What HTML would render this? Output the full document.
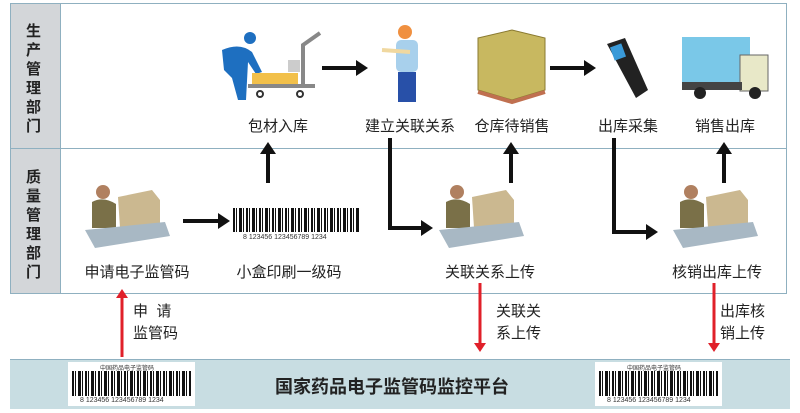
<!DOCTYPE html>
<html><head><meta charset="utf-8"><style>
body{margin:0;width:800px;height:413px;background:#fff;position:relative;overflow:hidden;font-family:"Liberation Sans","Noto Sans CJK SC",sans-serif;}
.a{position:absolute}
.t{position:absolute;font-size:15px;color:#222;white-space:nowrap;transform:translateX(-50%)}
.bc{position:absolute;background:repeating-linear-gradient(90deg,#111 0 2px,#fff 2px 3px,#111 3px 4px,#fff 4px 6px,#111 6px 9px,#fff 9px 10px,#111 10px 11px,#fff 11px 13px);}
.num{position:absolute;font-size:7px;color:#333;white-space:nowrap}
</style></head><body>
<div class="a" style="left:10px;top:3px;width:777px;height:291px;border:1px solid #8fb0c0;box-sizing:border-box"></div>
<div class="a" style="left:11px;top:4px;width:49px;height:289px;background:#d3d6d9;border-right:1px solid #8fb0c0"></div>
<div class="a" style="left:11px;top:148px;width:776px;height:1px;background:#8fb0c0"></div>
<div class="a" style="left:26px;top:22px;width:20px;font-size:15px;font-weight:bold;line-height:19px;color:#222">生产管理部门</div>
<div class="a" style="left:26px;top:168px;width:20px;font-size:15px;font-weight:bold;line-height:19px;color:#222">质量管理部门</div>

<svg class="a" style="left:0;top:0" width="800" height="413">
<defs>
<marker id="k" markerWidth="4" markerHeight="4" refX="1" refY="2" orient="auto" markerUnits="strokeWidth"><path d="M0,0L3,2L0,4z" fill="#111"/></marker>
<marker id="r" markerWidth="4" markerHeight="4" refX="1" refY="2" orient="auto" markerUnits="strokeWidth"><path d="M0,0L3,2L0,4z" fill="#e0202a"/></marker>
</defs>
<g stroke="#111" stroke-width="4" fill="none" marker-end="url(#k)">
<path d="M322 68H360"/><path d="M550 68H588"/>
<path d="M183 221H222"/>
<path d="M268 183V150"/>
<path d="M390 138V228H425"/>
<path d="M511 183V150"/>
<path d="M614 138V232H650"/>
<path d="M724 183V150"/>
</g>
<g stroke="#e0202a" stroke-width="3" fill="none" marker-end="url(#r)">
<path d="M122 357V295"/><path d="M480 283V346"/><path d="M714 283V346"/>
</g>
<circle cx="250" cy="38" r="6" fill="#1e6fc0"/>
<path d="M222 50Q240 42 252 52L262 72 256 74 248 62 246 100 238 100 232 78 224 70Z" fill="#1e6fc0"/>
<rect x="252" y="73" width="46" height="11" fill="#f2c04a"/><rect x="288" y="60" width="12" height="12" fill="#ccc"/>
<path d="M248 86H315M303 86V45L320 33" stroke="#888" stroke-width="4" fill="none"/>
<circle cx="260" cy="94" r="3" fill="none" stroke="#333" stroke-width="2"/><circle cx="300" cy="94" r="3" fill="none" stroke="#333" stroke-width="2"/>
<circle cx="405" cy="32" r="7" fill="#f09040"/>
<rect x="396" y="40" width="22" height="32" rx="5" fill="#a8d0ec"/>
<path d="M382 50L410 52" stroke="#f0d8a0" stroke-width="4"/>
<rect x="398" y="72" width="18" height="30" fill="#2850a8"/>
<path d="M478 38L512 30 545 38 545 90 512 100 478 90Z" fill="#c8b860" stroke="#8a7a30"/>
<path d="M478 92L512 102 545 92" stroke="#c07050" stroke-width="4" fill="none"/>
<path d="M607 44L625 38 648 90 636 98Z" fill="#222"/><rect x="612" y="45" width="12" height="14" fill="#3a9ad8" transform="rotate(-20 618 52)"/>
<rect x="682" y="37" width="68" height="45" fill="#7ac8e8"/>
<rect x="740" y="55" width="28" height="36" fill="#e8e8c8" stroke="#666"/>
<rect x="682" y="82" width="60" height="8" fill="#444"/>
<circle cx="700" cy="93" r="6" fill="#222"/><circle cx="755" cy="93" r="6" fill="#222"/>
<g id="w">
<circle cx="103" cy="192" r="7" fill="#b08060"/>
<path d="M92 202Q103 196 116 204L116 228 92 228Z" fill="#7a7048"/>
<path d="M118 197L152 190 160 200 160 226 120 228Z" fill="#cbb890"/>
<path d="M85 230L165 222 170 236 95 248Z" fill="#a8b8c4"/>
</g>
<use href="#w" x="354"/><use href="#w" x="588"/>
</svg>

<div class="t" style="left:278px;top:115px">包材入库</div>
<div class="t" style="left:410px;top:115px">建立关联关系</div>
<div class="t" style="left:512px;top:115px">仓库待销售</div>
<div class="t" style="left:628px;top:115px">出库采集</div>
<div class="t" style="left:725px;top:115px">销售出库</div>
<div class="t" style="left:137px;top:261px">申请电子监管码</div>
<div class="t" style="left:289px;top:261px">小盒印刷一级码</div>
<div class="t" style="left:490px;top:261px">关联关系上传</div>
<div class="t" style="left:717px;top:261px">核销出库上传</div>

<div class="bc" style="left:233px;top:208px;width:126px;height:24px"></div>
<div class="num" style="left:243px;top:234px">8 123456 123456789 1234</div>

<div class="a" style="left:133px;top:301px;font-size:15px;line-height:22px;color:#222">申&nbsp;&nbsp;请<br>监管码</div>
<div class="a" style="left:496px;top:301px;font-size:15px;line-height:22px;color:#222">关联关<br>系上传</div>
<div class="a" style="left:720px;top:301px;font-size:15px;line-height:22px;color:#222">出库核<br>销上传</div>

<div class="a" style="left:10px;top:359px;width:780px;height:49px;background:#c8dde2;border-top:1px solid #8fb0c0"></div>
<div class="a" style="left:68px;top:362px;width:127px;height:44px;background:#fff"></div>
<div class="a" style="left:595px;top:362px;width:127px;height:44px;background:#fff"></div>
<div class="num" style="left:100px;top:363px;font-size:6px">中国药品电子监管码</div>
<div class="num" style="left:627px;top:363px;font-size:6px">中国药品电子监管码</div>
<div class="bc" style="left:72px;top:371px;width:120px;height:25px"></div>
<div class="bc" style="left:599px;top:371px;width:120px;height:25px"></div>
<div class="num" style="left:80px;top:397px">8 123456 123456789 1234</div>
<div class="num" style="left:607px;top:397px">8 123456 123456789 1234</div>
<div class="t" style="left:392px;top:373px;font-size:18px;font-weight:bold;color:#222">国家药品电子监管码监控平台</div>
</body></html>
